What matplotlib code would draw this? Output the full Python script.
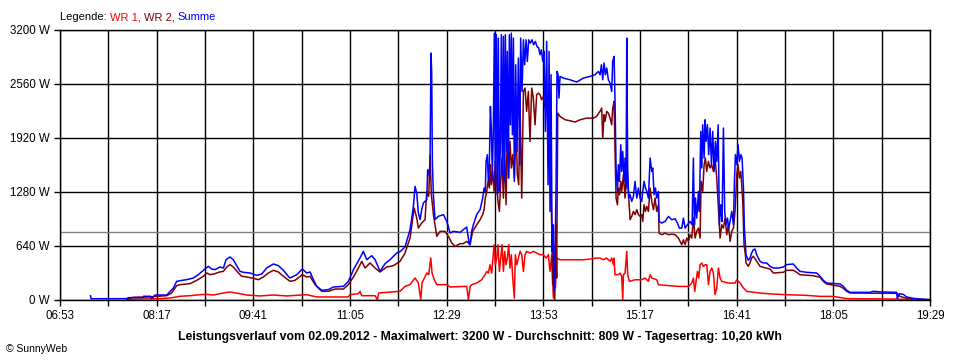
import matplotlib
matplotlib.use("Agg")
import matplotlib.pyplot as plt

# time in minutes after midnight, power in W
summe = [
    (439.5, 50), (440, 15), (471, 16), (472.4, 28), (485.4, 28), (485.5, 44), (491.8, 44), (492.7, 16),
    (495.6, 59), (505.7, 59), (507.2, 79), (511.5, 142), (514.4, 221), (517.3, 229), (523, 241),
    (528.9, 261), (533.2, 300), (537.6, 352), (541.9, 399), (544.8, 367), (547.7, 360), (552, 391),
    (555, 379), (557.3, 478), (560.7, 510), (563.6, 478), (566.5, 407), (569.4, 340), (572.3, 328),
    (578.1, 320), (583.9, 292), (588.3, 308), (592.6, 379), (598.4, 427), (602.8, 407), (607.1, 352),
    (611.4, 281), (612.9, 261), (618.7, 300), (623.6, 367), (627.4, 320), (630.3, 332), (633.2, 241),
    (636.1, 162), (640.4, 115), (646.2, 123), (650.6, 154), (659.3, 162), (663.6, 221), (668, 359),
    (673.7, 498), (676.6, 577), (679.5, 478), (683.9, 525), (686.8, 478), (691.1, 340), (695.5, 431),
    (699.8, 478), (705.6, 557), (708.5, 573), (712.8, 628), (717.2, 834), (720.1, 1110), (721.5, 1347),
    (723, 1268), (724.4, 1031), (725.9, 952), (727.3, 1071), (728.8, 1150), (731.7, 1189), (732.5, 1545),
    (734, 1466), (734.6, 1722), (735.4, 2927), (736, 2690), (736.6, 1624), (737.5, 1229), (738.9, 952),
    (741.8, 992), (746.2, 1011), (749.1, 932), (752, 794), (754.9, 814), (760.7, 802), (763.5, 834),
    (766.4, 865), (768.5, 676), (769.3, 655), (770.7, 813), (772.2, 892), (775.1, 1011), (778, 1070),
    (780.3, 1208), (781.5, 1327), (782.6, 1287), (783.2, 1642), (784.4, 1722), (785.2, 1406),
    (786.1, 1603), (787, 2294), (787.8, 2038), (788.7, 1445), (789.6, 2077), (790.4, 3163), (791.3, 1366),
    (792.2, 3144), (793.1, 1248), (793.9, 3104), (794.8, 1287), (795.7, 1880), (796.5, 3144),
    (797.4, 1485), (798.3, 3124), (799.1, 1406), (800, 3144), (800.9, 1761), (801.7, 2946), (802.6, 1445),
    (803.5, 3144), (804.4, 2077), (805.2, 3163), (806.1, 1959), (807, 3104), (807.8, 1406), (809, 2788),
    (810.1, 1761), (811.3, 2867), (812.5, 1603), (813.3, 3104), (814.5, 2472), (815.7, 3084),
    (816.8, 2788), (818, 3084), (819.1, 2828), (820.3, 3084), (821.7, 3045), (823.2, 3084), (824.6, 3025),
    (826.1, 3065), (827.5, 3005), (829, 2986), (830.1, 2907), (831.3, 2966), (832.5, 2828), (833.6, 2946),
    (834.8, 1998), (835.9, 3065), (837.1, 1366), (838, 2946), (838.8, 1050), (839.7, 2670), (840.6, 576),
    (841.4, 892), (842.3, 102), (843.2, 537), (844, 1287), (844.9, 2709), (845.8, 2670), (846.6, 2393),
    (847.5, 2650), (850.4, 2630), (856.2, 2610), (862, 2583), (867.8, 2630), (873.6, 2650), (877.9, 2670),
    (880.8, 2709), (882.3, 2670), (883.5, 2788), (884.6, 2610), (885.8, 2808), (886.9, 2670),
    (888.1, 2749), (889.5, 2610), (891, 2571), (892.4, 2472), (893.3, 2828), (894.5, 2887), (895.3, 2354),
    (896.2, 1564), (897.4, 1287), (898.2, 1603), (899.1, 1406), (900.3, 1840), (901.1, 1524), (902, 1761),
    (903.2, 1406), (904, 1682), (904.9, 1327), (905.5, 3104), (906.3, 1564), (907.2, 1208), (908.4, 1248),
    (909.8, 1169), (911.3, 1228), (912.7, 1406), (914.2, 1208), (915.6, 1327), (917.1, 1208),
    (918.5, 1169), (919.4, 1287), (920.5, 1406), (921.7, 1327), (922.9, 1287), (924.3, 1208),
    (925.8, 1682), (927.2, 1524), (928.1, 1564), (929.2, 1248), (930.4, 1327), (931.5, 1208), (933, 1287),
    (933.6, 931), (935.9, 912), (938.8, 931), (941.7, 991), (944.6, 951), (947.5, 963), (949.5, 912),
    (951.2, 852), (953.3, 852), (954.7, 971), (956.2, 852), (958.2, 892), (960.5, 931), (962.3, 892),
    (963.4, 1682), (964.3, 892), (965.2, 1208), (966.3, 971), (967.8, 1287), (968.6, 1050), (969.8, 1998),
    (970.7, 1564), (971.5, 2077), (972.7, 1682), (973.6, 2136), (974.4, 1880), (975.6, 2077),
    (976.7, 1722), (977.9, 2038), (979.1, 1603), (980.2, 1998), (981.4, 1524), (982.5, 1880),
    (983.7, 1642), (984.9, 2077), (986, 892), (987.2, 1129), (988.3, 931), (989.5, 2038), (990.6, 1050),
    (991.8, 892), (993, 971), (994.1, 852), (995.3, 931), (996.7, 1050), (998.2, 892), (999, 1366),
    (999.9, 1722), (1001.1, 1603), (1002.2, 1840), (1003.4, 1642), (1004.6, 1722), (1005.7, 1682),
    (1006.9, 1327), (1007.7, 852), (1008.6, 655), (1009.1, 537), (1011.1, 470), (1012.6, 498), (1014, 557),
    (1015.5, 596), (1016.9, 604), (1018.4, 537), (1019.8, 498), (1021.3, 458), (1024.2, 439),
    (1027.1, 439), (1030, 399), (1032.9, 379), (1037.2, 379), (1041.5, 391), (1044.4, 419), (1050.2, 427),
    (1053.1, 379), (1056, 340), (1061.8, 328), (1070.5, 320), (1073.4, 281), (1076.3, 233), (1079.2, 201),
    (1090.8, 190), (1093.7, 162), (1096.6, 115), (1099.5, 91), (1116.9, 91), (1119.8, 103), (1127, 95),
    (1140, 91), (1140.6, 16), (1142.4, 75), (1145.8, 67), (1148.7, 36), (1154.5, 20), (1160.3, 12),
    (1169, 4),
]

wr2 = [
    (471, 8), (476.7, 32), (491.2, 36), (497, 44), (505.7, 51), (510, 83), (514.4, 170), (517.3, 182),
    (526, 194), (531.8, 233), (537.6, 281), (540.5, 320), (543.4, 300), (547.7, 312), (550.6, 328),
    (555, 340), (557.9, 391), (560.7, 419), (563.6, 391), (568, 320), (570.9, 281), (575.2, 273),
    (581, 257), (585.4, 241), (589.7, 273), (594.1, 320), (598.4, 352), (602.8, 332), (607.1, 281),
    (612.9, 221), (617.2, 233), (623.6, 300), (627.4, 273), (630.3, 280), (634.6, 182), (640.4, 103),
    (646.2, 103), (652, 130), (659.3, 130), (663.6, 182), (668, 273), (672.3, 379), (675.2, 458),
    (678.1, 379), (682.4, 439), (686.8, 379), (691.1, 332), (696.9, 391), (702.7, 407), (708.5, 458),
    (712.8, 557), (717.2, 735), (720.7, 1090), (723, 972), (724.4, 853), (727.3, 912), (730.2, 952),
    (731.7, 1288), (733.4, 1229), (734.6, 1722), (735.7, 1248), (737.5, 1011), (740.4, 755), (743.3, 814),
    (747.6, 814), (750.5, 755), (753.4, 676), (756.3, 636), (760.7, 668), (763.5, 668), (766.4, 695),
    (769.3, 656), (771.6, 813), (775.1, 892), (778, 951), (780.3, 1011), (781.5, 1070), (782.6, 1208),
    (783.8, 1287), (785, 1406), (786.1, 1327), (787, 1603), (787.8, 1366), (789, 1524), (790.2, 1287),
    (791.3, 1642), (792.5, 1366), (793.6, 1169), (794.8, 1050), (796, 1406), (797.1, 1682), (798.3, 1208),
    (799.4, 1761), (800.6, 1129), (801.7, 2077), (802.9, 1445), (804, 1880), (805.2, 1564), (806.4, 1722),
    (807.8, 1445), (809.3, 2077), (810.4, 1485), (811.6, 1366), (812.8, 2274), (814.2, 1208),
    (815.7, 2472), (817.1, 2512), (818.5, 2235), (820, 2472), (821.4, 1880), (822.9, 2512), (824.3, 2393),
    (825.8, 2077), (827.2, 2433), (828.7, 2452), (830.1, 2433), (831.6, 2373), (833, 2413), (834.5, 2274),
    (835.9, 2413), (837.1, 1998), (838.2, 2354), (839.4, 1366), (840.3, 892), (841.1, 181), (842, 497),
    (842.9, 0), (843.7, 892), (844.6, 260), (845.5, 2215), (847.5, 2176), (851.9, 2136), (856.2, 2124),
    (860.6, 2109), (864.9, 2136), (870.7, 2156), (876.5, 2156), (879.4, 2176), (881.7, 2227),
    (882.3, 2235), (883.7, 2274), (884.6, 1919), (885.8, 2196), (886.6, 2117), (888.1, 2235),
    (889.5, 2215), (891, 2156), (892.4, 2077), (893.3, 2274), (894.5, 2354), (895.3, 1761), (896.2, 1208),
    (897.4, 1129), (898.2, 1327), (899.1, 1248), (900.3, 1406), (901.1, 1287), (902.6, 1485), (904, 1208),
    (904.9, 1366), (905.5, 1603), (906.3, 1406), (907.2, 1208), (908.4, 951), (909.8, 991), (911.3, 1050),
    (912.7, 1011), (914.2, 1070), (915.6, 1011), (917.1, 991), (918.5, 1011), (919.4, 931), (920.5, 1129),
    (921.7, 1050), (922.9, 1109), (924.3, 1050), (925.8, 1327), (927.2, 1169), (928.7, 1070),
    (930.1, 1208), (931.5, 1050), (933, 1129), (933.6, 793), (935.9, 774), (938.8, 793), (941.7, 774),
    (944.6, 781), (947.5, 774), (950.4, 734), (951.8, 695), (953.3, 655), (954.7, 714), (956.2, 655),
    (957.6, 734), (959.1, 695), (960.5, 774), (962, 734), (963.4, 971), (964.9, 734), (966.3, 813),
    (967.8, 852), (969.2, 734), (970.1, 1406), (971.5, 1287), (972.7, 1603), (973.8, 1682), (975, 1524),
    (976.4, 1642), (977.9, 1564), (979.3, 1603), (980.8, 1524), (982.2, 1682), (983.7, 1445),
    (985.1, 1090), (986.6, 734), (988, 892), (989.5, 852), (990.9, 971), (992.4, 774), (993.8, 892),
    (995.3, 695), (996.7, 813), (998.2, 852), (999.6, 1050), (1001.1, 1485), (1002.2, 1603),
    (1003.4, 1445), (1004.6, 1524), (1006.3, 1169), (1007.4, 655), (1008.6, 537), (1009.1, 439),
    (1011.1, 399), (1012.6, 439), (1014, 498), (1015.5, 518), (1018.4, 458), (1021.3, 399), (1024.2, 387),
    (1030, 367), (1032.9, 320), (1041.5, 328), (1044.4, 352), (1050.2, 352), (1053.1, 328), (1056, 300),
    (1067.6, 288), (1073.4, 269), (1076.3, 221), (1079.2, 190), (1090.8, 162), (1093.7, 138),
    (1096.6, 103), (1099.5, 83), (1140, 79), (1142.9, 43), (1148.7, 20), (1160.3, 8), (1169, 4),
]

wr1 = [
    (471, 8), (499.9, 16), (508.6, 24), (517.3, 44), (526, 51), (534.7, 63), (540.5, 67), (546.3, 59),
    (555, 83), (560.7, 95), (569.4, 75), (575.2, 59), (586.8, 48), (598.4, 59), (610, 48), (618.7, 55),
    (627.4, 63), (636.1, 36), (663.6, 36), (665, 63), (672.3, 75), (673.7, 103), (675.2, 51), (686.8, 51),
    (688.8, 4), (690, 83), (708.5, 103), (712.8, 162), (717.2, 182), (721.5, 261), (724.4, 202),
    (726.5, 4), (727.6, 202), (731.7, 320), (733.4, 300), (735.2, 498), (736.3, 320), (738, 249),
    (740.4, 182), (749.1, 182), (752, 154), (766.4, 162), (767.9, 4), (769.3, 154), (770.7, 181),
    (775.1, 201), (779.4, 240), (782.3, 300), (783.8, 339), (785.2, 319), (786.7, 418), (788.1, 319),
    (790.2, 655), (791.3, 418), (792.5, 497), (793.6, 655), (794.8, 339), (796, 497), (797.1, 655),
    (798.3, 339), (799.4, 576), (800.6, 418), (801.7, 497), (802.9, 655), (804, 379), (805.2, 537),
    (806.4, 260), (807.8, 23), (808.7, 537), (809.9, 418), (811.3, 497), (812.8, 576), (814.2, 537),
    (815.7, 339), (817.1, 537), (818.5, 576), (821.4, 556), (824.3, 576), (827.2, 556), (830.1, 537),
    (833, 537), (835.4, 497), (837.4, 537), (838.8, 339), (840.3, 537), (841.7, 23), (842.6, 497),
    (843.5, 142), (844.6, 497), (847.5, 477), (856.2, 477), (867.8, 477), (873.6, 485), (879.4, 497),
    (882.3, 497), (885.2, 477), (888.1, 497), (891, 458), (892.4, 497), (893.9, 418), (894.5, 497),
    (895.3, 300), (898.2, 300), (899.7, 319), (901.1, 280), (902, 3), (902.6, 300), (904, 319),
    (905.5, 576), (906.3, 300), (907.8, 221), (912.7, 240), (918.5, 240), (921.4, 260), (924.3, 221),
    (925.8, 300), (927.2, 260), (931.5, 240), (933, 181), (950.4, 161), (959.1, 161), (962, 201),
    (963.4, 260), (964.6, 102), (965.7, 221), (966.9, 339), (968, 260), (969.2, 418), (970.7, 438),
    (972.1, 398), (973.6, 418), (975, 418), (976.5, 181), (977.9, 339), (979.4, 379), (980.8, 319),
    (982.2, 63), (983.7, 142), (985.1, 379), (986.6, 260), (988, 221), (993.8, 201), (999.6, 201),
    (1001.1, 240), (1004, 201), (1006.9, 142), (1009.8, 102), (1021.4, 82), (1033, 70), (1044.4, 63),
    (1061.8, 55), (1073.4, 43), (1085, 43), (1096.6, 16), (1137.1, 12), (1154.5, 4),
]

avg_w = 809
t_start = 6 * 60 + 53
t_end = 19 * 60 + 29
y_ticks = [0, 640, 1280, 1920, 2560, 3200]
title = ("Leistungsverlauf vom 02.09.2012 - Maximalwert: 3200 W - "
         "Durchschnitt: 809 W - Tagesertrag: 10,20 kWh")

plt.rcParams['font.family'] = ['Liberation Sans', 'DejaVu Sans']

fig = plt.figure(figsize=(9.6, 3.6), dpi=100)
ax = fig.add_axes([60 / 960, 60 / 360, 870 / 960, 270 / 360])

ax.axhline(avg_w, color='#808080', lw=1.0, zorder=1.5)

for series, col in [(wr1, '#ff0000'), (wr2, '#800000'), (summe, '#0000ff')]:
    t, p = zip(*series)
    ax.plot(t, p, color=col, lw=1.1, zorder=2)

ax.set_xlim(t_start, t_end)
ax.set_ylim(0, 3200)

x_ticks = list(range(t_start, t_end + 1, 42))
x_labels = [f"{m // 60:02d}:{m % 60:02d}" if i % 2 == 0 else "" for i, m in enumerate(x_ticks)]
ax.set_xticks(x_ticks)
ax.set_xticklabels(x_labels)
ax.set_yticks(y_ticks)
ax.set_yticklabels([f"{v} W" for v in y_ticks])

ax.grid(True, color='black', lw=1.0)
ax.set_axisbelow(True)
for s in ax.spines.values():
    s.set_color('black')
    s.set_linewidth(1.0)
ax.tick_params(direction='out', length=4.5, width=1.0, labelsize=8.3, pad=3, colors='black')

# legend line above the plot, coloured pieces
fig.canvas.draw()
renderer = fig.canvas.get_renderer()
x = 60 / 960
for txt, col in [("Legende: ", 'black'), ("WR 1, ", '#ff0000'), ("WR 2, ", '#800000'), ("Summe", '#0000ff')]:
    tt = fig.text(x, 343 / 360, txt, color=col, fontsize=8, va='center', ha='left')
    bb = tt.get_window_extent(renderer)
    x += bb.width / 960

fig.text(0.5, 23 / 360, title, ha='center', va='center', fontsize=8.8, fontweight='bold')
fig.text(6 / 960, 11 / 360, "\u00a9 SunnyWeb", ha='left', va='center', fontsize=7.5)

fig.savefig("out.png", dpi=100)
